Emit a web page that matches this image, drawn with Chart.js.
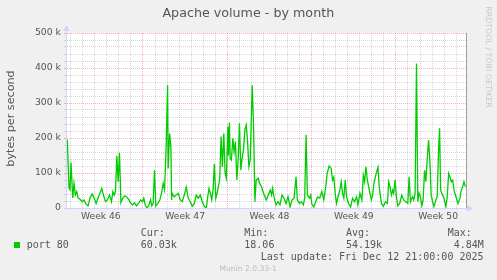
<!DOCTYPE html>
<html><head><meta charset="utf-8">
<script src="https://cdn.jsdelivr.net/npm/chart.js@4/dist/chart.umd.min.js"></script>
<style>html,body{margin:0;padding:0;background:#F0F0F0;overflow:hidden}#wrap{position:relative;width:497px;height:280px}canvas{display:block}</style>
</head><body><div id="wrap"><canvas id="c" width="497" height="280"></canvas></div>
<script>
// ---- data ----
const chartTitle = 'Apache volume - by month';
const yAxisTitle = 'bytes per second';
const weekLabels = ['Week 46', 'Week 47', 'Week 48', 'Week 49', 'Week 50'];
const yMajorTicksK = [0, 100, 200, 300, 400, 500];
// hours since Mon 00:00 of week 46
const hours = [17.2,20.6,22.6,24.6,28.0,30.6,33.2,36.0,38.6,42.6,46.6,50.6,54.6,58.6,62.6,66.6,70.6,74.6,78.6,86.0,
89.2,93.2,97.2,101.2,105.2,108.0,110.6,113.2,116.0,118.6,121.2,124.0,128.0,132.0,136.0,140.0,143.0,147.0,151.0,155.0,
159.0,163.0,167.0,169.6,172.2,176.2,180.2,183.0,185.6,188.2,191.0,193.6,197.6,201.6,205.6,208.2,211.0,
214.2,217.0,218.2,221.0,223.6,225.0,226.2,230.2,234.2,238.2,242.2,246.2,250.2,254.2,258.2,262.2,266.2,270.2,274.2,278.2,
282.2,286.2,290.2,294.2,297.0,299.6,302.2,305.0,307.6,310.2,313.0,315.6,318.2,321.0,323.6,326.2,329.0,331.6,334.2,337.0,338.2,
340.2,341.6,344.2,347.0,349.6,352.2,355.0,357.6,360.2,363.0,365.6,368.2,371.0,373.6,376.2,379.0,381.6,384.2,385.6,388.2,
391.0,393.6,397.6,400.2,404.2,407.0,409.6,413.6,417.6,421.6,424.2,426.2,429.0,433.0,437.0,441.0,445.0,449.0,453.0,457.0,
461.0,465.0,469.0,473.0,475.6,479.6,483.6,487.6,490.2,493.0,495.6,499.6,502.2,
504.2,508.2,512.2,516.2,520.2,524.2,528.2,532.2,535.0,539.0,543.0,545.6,548.2,551.0,553.6,557.6,560.2,563.0,565.6,568.2,
571.0,573.6,577.6,581.6,585.6,589.6,593.6,596.2,600.2,604.2,607.0,609.6,612.2,615.0,617.6,620.2,623.0,625.6,628.2,631.0,
633.6,636.2,639.0,643.0,647.0,651.0,655.0,657.6,660.2,663.0,665.6,
667.6,670.2,673.0,675.6,679.6,683.6,687.6,691.6,695.6,698.2,701.0,705.0,707.6,710.2,713.0,715.6,718.2,721.0,723.6,726.2,
729.0,731.6,734.2,737.0,739.6,742.2,745.0,747.6,751.6,754.2,757.0,759.0,761.0,763.6,767.6,771.6,774.2,777.0,779.6,782.2,
785.0,787.6,791.6,795.6,799.6,802.2,805.0,807.6,810.2];
// bytes per second, in thousands
const bytesK = [196,57,52,130,29,70,37,47,29,25,18,23,11,6,29,40,29,13,29,56,
37,18,23,37,18,47,37,47,149,75,158,15,29,35,31,23,15,9,15,6,
13,23,18,28,9,0,9,23,6,13,108,6,13,23,47,70,52,
175,351,113,213,175,23,42,32,37,42,23,18,37,59,28,18,5,13,37,28,
37,18,5,0,32,56,42,23,51,126,28,42,61,85,204,118,213,99,85,232,150,
244,142,137,199,161,190,80,137,242,108,142,166,223,237,194,118,137,275,351,242,
18,80,85,71,61,47,37,23,37,51,37,56,32,9,18,9,37,28,13,32,
3,23,28,89,23,13,18,9,28,209,37,28,37,
13,3,18,32,28,47,23,61,99,120,113,80,89,42,13,37,51,75,42,28,
80,32,13,3,28,18,32,9,42,23,94,75,118,80,61,42,23,37,71,89,
104,116,56,13,5,18,13,75,61,37,51,
42,80,32,6,13,37,23,18,13,89,18,32,23,42,413,18,42,32,6,23,
108,75,137,194,137,37,18,4,23,32,166,228,51,42,28,4,32,99,89,75,
80,51,32,13,28,51,61,75,61];
const seriesName = 'port 80';
const statNames = ['Cur:', 'Min:', 'Avg:', 'Max:'];
const statValues = ['60.03k', '18.06', '54.19k', ' 4.84M'];
const lastUpdate = 'Last update: Fri Dec 12 21:00:00 2025';
const footerText = 'Munin 2.0.33-1';
const watermark = 'RRDTOOL / TOBI OETIKER';

// ---- chart ----
const X_MIN = 16.6, X_MAX = 811.6, DAY = 24, WEEK = 168;
const GREEN = '#00CC00', TEXT = '#555555', AXIS = '#CFD6F8';
const MINOR = 'rgba(150,150,150,0.38)', MAJOR = 'rgba(230,90,90,0.45)';
const points = hours.map((h, i) => ({x: h, y: bytesK[i] * 1000}));

const bgPlugin = {
  id: 'bg',
  beforeDraw(chart) {
    const {ctx, chartArea: a} = chart;
    ctx.save();
    ctx.fillStyle = '#F0F0F0';
    ctx.fillRect(0, 0, chart.width, chart.height);
    ctx.fillStyle = '#FFFFFF';
    ctx.fillRect(a.left, a.top, a.right - a.left, a.bottom - a.top);
    ctx.restore();
  }
};

const decorPlugin = {
  id: 'decor',
  afterDraw(chart) {
    const {ctx, chartArea: a} = chart;
    ctx.save();
    // right frame line
    ctx.strokeStyle = '#A0A0A0';
    ctx.lineWidth = 1;
    ctx.beginPath();
    ctx.moveTo(a.right + 0.5, a.top);
    ctx.lineTo(a.right + 0.5, a.bottom);
    ctx.stroke();
    // axes
    ctx.strokeStyle = AXIS;
    ctx.beginPath();
    ctx.moveTo(a.left - 2, a.bottom + 0.5);
    ctx.lineTo(a.right + 3, a.bottom + 0.5);
    ctx.moveTo(a.left - 0.5, a.bottom + 2);
    ctx.lineTo(a.left - 0.5, a.top - 3);
    ctx.stroke();
    ctx.fillStyle = AXIS;
    ctx.beginPath();
    ctx.moveTo(a.right + 1, a.bottom - 3);
    ctx.lineTo(a.right + 1, a.bottom + 4);
    ctx.lineTo(a.right + 7, a.bottom + 0.5);
    ctx.closePath();
    ctx.fill();
    ctx.beginPath();
    ctx.moveTo(a.left - 4, a.top - 2);
    ctx.lineTo(a.left + 3, a.top - 2);
    ctx.lineTo(a.left - 0.5, a.top - 8);
    ctx.closePath();
    ctx.fill();

    // title
    ctx.fillStyle = TEXT;
    ctx.textBaseline = 'middle';
    ctx.textAlign = 'center';
    ctx.font = '12.7px "DejaVu Sans"';
    ctx.fillText(chartTitle, 248.3, 13.5);
    // y title
    ctx.save();
    ctx.translate(11, 118.5);
    ctx.rotate(-Math.PI / 2);
    ctx.font = '11.2px "DejaVu Sans"';
    ctx.fillText(yAxisTitle, 0, 0);
    ctx.restore();
    // watermark
    ctx.save();
    ctx.translate(488.5, 57);
    ctx.rotate(Math.PI / 2);
    ctx.fillStyle = '#C8C8C8';
    ctx.font = '7.9px "DejaVu Sans"';
    ctx.fillText(watermark, 0, 0);
    ctx.restore();
    // footer
    ctx.fillStyle = '#BBBBBB';
    ctx.font = '7.6px "DejaVu Sans"';
    ctx.fillText(footerText, 248, 269);

    // legend
    ctx.fillStyle = GREEN;
    ctx.fillRect(14, 242, 6, 6);
    ctx.fillStyle = TEXT;
    ctx.textAlign = 'left';
    ctx.font = '10px "DejaVu Sans Mono"';
    ctx.fillText(seriesName, 26.7, 245.5);
    const statX = [140.7, 244.3, 346, 447.7];
    statNames.forEach((n, i) => {
      ctx.fillText(n, statX[i], 233.3);
      ctx.fillText(statValues[i], statX[i], 245.5);
    });
    ctx.textAlign = 'right';
    ctx.fillText(lastUpdate, 483.5, 257.3);
    ctx.restore();
  }
};

new Chart(document.getElementById('c'), {
  type: 'line',
  data: {datasets: [{
    label: seriesName, data: points, borderColor: GREEN, borderWidth: 1.3,
    pointRadius: 0, tension: 0, fill: false
  }]},
  options: {
    responsive: false, animation: false, devicePixelRatio: 1,
    parsing: false, normalized: true,
    layout: {padding: {left: 0, top: 33, right: 31, bottom: 0}},
    plugins: {legend: {display: false}, tooltip: {enabled: false}, title: {display: false}},
    scales: {
      x: {
        type: 'linear', min: X_MIN, max: X_MAX,
        afterBuildTicks(s) {
          const t = [];
          for (let v = DAY; v <= X_MAX; v += DAY) if (v >= X_MIN) t.push({value: v});
          weekLabels.forEach((w, i) => t.push({value: WEEK / 2 + WEEK * i}));
          t.sort((p, q) => p.value - q.value);
          s.ticks = t;
        },
        afterFit(s) { s.height = 72; },
        ticks: {
          autoSkip: false, maxRotation: 0, minRotation: 0, padding: 1, color: TEXT,
          font: {family: 'DejaVu Sans', size: 9.2},
          callback(v) {
            const k = (v - WEEK / 2) / WEEK;
            return (Number.isInteger(k) && weekLabels[k]) ? weekLabels[k] : '';
          }
        },
        grid: {
          lineWidth: 1, drawTicks: true, tickLength: 2,
          color(c) {
            const v = c.tick ? c.tick.value : 0;
            if (v % WEEK === 0) return MAJOR;
            if (v % DAY === 0) return MINOR;
            return 'rgba(0,0,0,0)';
          },
          tickColor(c) {
            const v = c.tick ? c.tick.value : 0;
            return (v % DAY === 0) ? AXIS : 'rgba(0,0,0,0)';
          }
        },
        border: {display: false, dash: [1, 1]}
      },
      y: {
        min: 0, max: yMajorTicksK[yMajorTicksK.length - 1] * 1000,
        afterBuildTicks(s) {
          const t = [];
          for (let v = 0; v <= s.max; v += 20000) t.push({value: v});
          s.ticks = t;
        },
        afterFit(s) { s.width = 67; },
        ticks: {
          autoSkip: false, padding: 3, color: TEXT,
          font: {family: 'DejaVu Sans', size: 9.3},
          callback(v) {
            const k = v / 1000;
            if (!yMajorTicksK.includes(k)) return '';
            return k === 0 ? '0' : k + ' k';
          }
        },
        grid: {
          lineWidth: 1, drawTicks: true, tickLength: 3,
          color(c) {
            const v = c.tick ? c.tick.value : 0;
            return (v % 100000 === 0) ? MAJOR : MINOR;
          }
        },
        border: {display: false, dash: [1, 1]}
      }
    }
  },
  plugins: [bgPlugin, decorPlugin]
});
</script></body></html>
